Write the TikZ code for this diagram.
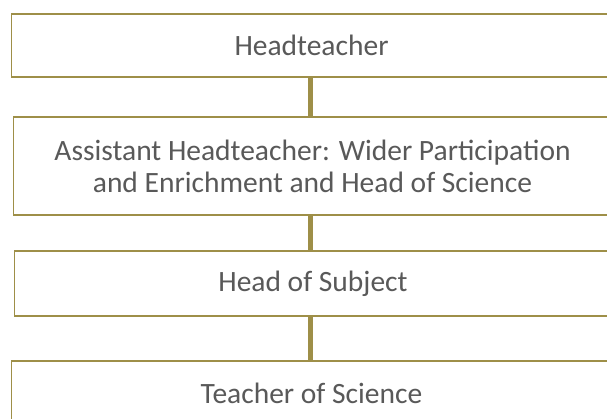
\documentclass[tikz,border=0pt]{standalone}
\usepackage{fontspec}
\setmainfont{Carlito}
\definecolor{olive}{RGB}{158,143,72}
\definecolor{textgrey}{RGB}{89,89,89}
\tikzset{
  rolebox/.style={draw=olive, line width=1.6pt, fill=white, inner sep=0pt,
    text=textgrey, align=center, font=\fontsize{29.5}{32}\selectfont},
  link/.style={draw=olive, line width=4.5pt}
}
\begin{document}
\begin{tikzpicture}[x=1pt,y=-1pt]
                \useasboundingbox (0,0) rectangle (607,419);
                % boxes
                \node[rolebox, minimum width=600pt, minimum height=63pt] (head) at (311.5,45.5) {\raisebox{-1pt}{Headteacher}};
                \node[rolebox, minimum width=598pt, minimum height=98pt] (assistant) at (312.5,166) {\raisebox{-3pt}{\parbox{590pt}{\centering Assistant Headteacher: Wider Participation\\and Enrichment and Head of Science}}};
                \node[rolebox, minimum width=597pt, minimum height=65pt] (subject) at (313,283.5) {\raisebox{-6pt}{Head of Subject}};
                \node[rolebox, minimum width=600pt, minimum height=65pt, anchor=north] (teacher) at (311.5,360) {\raisebox{-2pt}{Teacher of Science}};
                % connectors
                \draw[link] (head.south -| 310.5,0) -- (assistant.north -| 310.5,0);
                \draw[link] (assistant.south -| 310.5,0) -- (subject.north -| 310.5,0);
                \draw[link] (subject.south -| 310.5,0) -- (teacher.north -| 310.5,0);
\end{tikzpicture}
\end{document}
